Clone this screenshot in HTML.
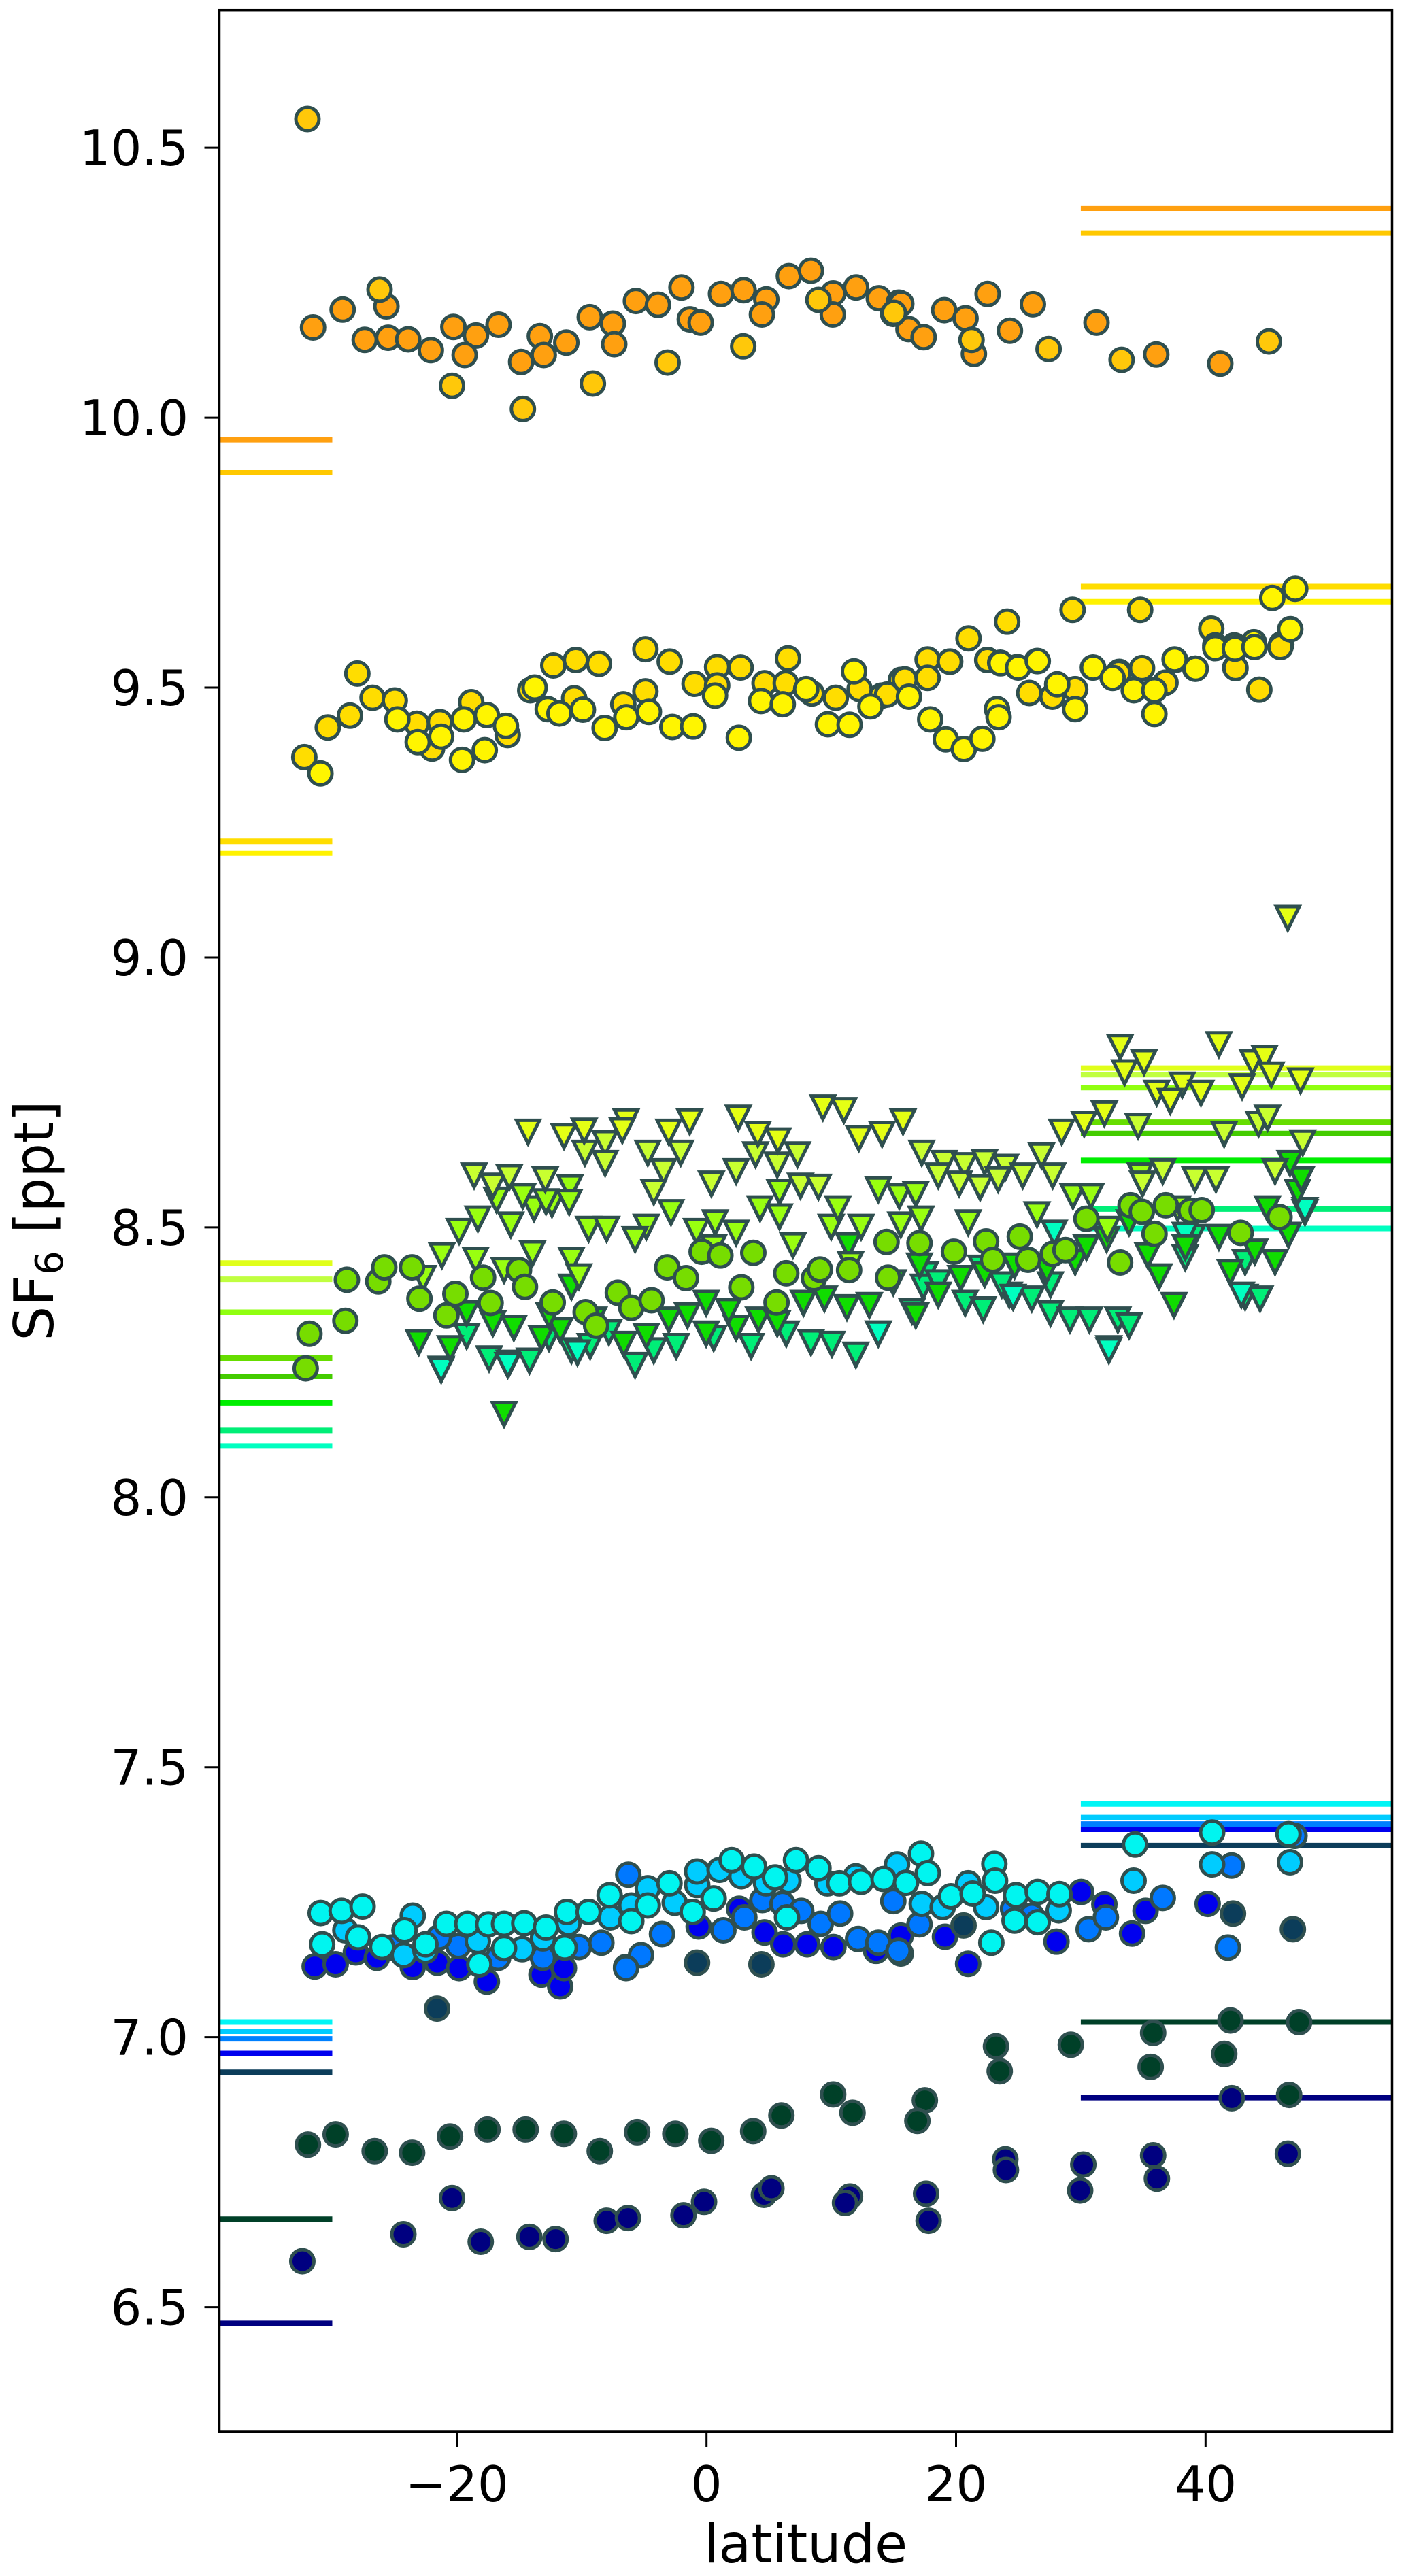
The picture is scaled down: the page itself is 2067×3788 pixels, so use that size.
<!DOCTYPE html>
<html><head><meta charset="utf-8"><title>SF6 vs latitude</title>
<style>html,body{margin:0;padding:0;background:#fff;}svg{display:block;font-family:"DejaVu Sans","Liberation Sans",sans-serif;}</style>
</head><body>
<svg id="chart" xmlns="http://www.w3.org/2000/svg" width="2067" height="3788" viewBox="0 0 2067 3788">
<rect x="0" y="0" width="2067" height="3788" fill="#fff"/>
<g id="lines"></g>
<g id="marks"></g>
<g id="axes"></g>
</svg>
<script>
// ---- axis limits ----
const xLim = [-39.05, 54.95];
const yLim = [6.269, 10.755];
const xTicks = [-20, 0, 20, 40];
const xTickLabels = ["\u221220", "0", "20", "40"];
const yTicks = [6.5, 7.0, 7.5, 8.0, 8.5, 9.0, 9.5, 10.0, 10.5];
const yTickLabels = ["6.5", "7.0", "7.5", "8.0", "8.5", "9.0", "9.5", "10.0", "10.5"];

// ---- reference lines ----
const lineColors = ["#ffa010","#ffc800","#ffdd00","#fff200","#e0ff1a","#c0ff40","#90ff10","#66dd00","#44cc00","#00ee00","#00ee77","#00ffc0","#00f5f5","#00ccff","#0080ff","#0000ee","#0c3d5a","#004028","#000080"];
const lineLeftVals = [9.959,9.898,9.215,9.193,8.434,8.404,8.343,8.258,8.224,8.175,8.124,8.095,7.028,7.011,6.997,6.970,6.935,6.663,6.470];
const lineRightVals = [10.387,10.342,9.687,9.659,8.795,8.783,8.759,8.695,8.674,8.624,8.534,8.498,7.432,7.407,7.395,7.385,7.355,7.028,6.888];
const leftSpan = [-39.05, -30];
const rightSpan = [30, 54.95];

// ---- circle series ----
const orangeLat = [-31.54,-29.17,-25.66,-27.40,-25.52,-23.91,-22.10,-20.29,-18.48,-19.39,-16.67,-14.86,-13.36,-13.05,-11.24,-9.36,-7.51,-7.40,-5.66,-3.89,-2.01,-1.34,-0.47,1.16,2.97,4.79,4.44,6.60,8.37,10.15,10.12,11.99,13.81,15.41,15.61,16.19,17.40,19.05,20.76,21.43,22.53,24.32,26.16,31.26,36.05,41.18];
const orangeVal = [10.167,10.200,10.206,10.144,10.148,10.145,10.125,10.168,10.152,10.116,10.172,10.103,10.151,10.116,10.139,10.186,10.174,10.136,10.216,10.209,10.241,10.182,10.176,10.229,10.236,10.219,10.191,10.262,10.272,10.230,10.191,10.241,10.221,10.213,10.211,10.164,10.149,10.199,10.184,10.118,10.229,10.161,10.210,10.176,10.117,10.100];
const goldLat = [-31.99,-26.21,-20.40,-14.72,-9.11,-3.12,2.94,8.97,14.96,15.02,21.24,27.42,33.27,45.08];
const goldVal = [10.553,10.237,10.059,10.016,10.063,10.102,10.132,10.218,10.192,10.194,10.144,10.127,10.107,10.141];
const ygoldLat = [-32.24,-30.36,-28.58,-27.99,-26.77,-24.99,-23.22,-22.00,-21.37,-18.86,-15.94,-14.13,-12.28,-10.47,-8.62,-10.61,-6.67,-4.90,-4.90,-2.95,-0.96,0.85,0.85,2.73,4.65,6.53,6.35,8.44,10.36,12.27,14.05,15.58,29.34,34.76,24.10,21.00,17.74,19.53,22.50,40.46,46.07,42.38,33.08,17.72,19.49,15.89,17.72,22.52,23.54,25.87,27.72,29.55,33.02,34.91,36.79,42.40,44.31,46.00,14.48];
const ygoldVal = [9.371,9.426,9.448,9.526,9.481,9.476,9.433,9.387,9.436,9.473,9.412,9.495,9.541,9.551,9.544,9.480,9.469,9.571,9.493,9.548,9.507,9.538,9.504,9.537,9.508,9.554,9.508,9.489,9.481,9.497,9.485,9.514,9.644,9.644,9.622,9.591,9.551,9.548,9.551,9.609,9.580,9.537,9.529,9.552,9.548,9.515,9.518,9.551,9.546,9.490,9.483,9.497,9.527,9.536,9.509,9.536,9.496,9.575,9.487];
const yellowLat = [-30.95,-24.78,-23.15,-21.27,-19.60,-19.46,-17.78,-17.61,-16.08,-12.73,-11.79,-9.91,-8.17,-6.43,-4.62,-2.74,-1.07,2.59,4.37,6.11,9.73,11.47,13.14,11.82,-13.78,0.68,7.99,45.35,47.19,46.79,40.78,42.30,43.87,37.57,39.17,30.97,24.90,26.48,23.57,16.23,17.93,19.18,20.62,22.11,23.28,23.41,24.98,26.55,28.11,29.55,30.99,32.55,34.25,35.90,35.90,37.52,39.21,40.78,42.35,43.92];
const yellowVal = [9.341,9.441,9.399,9.409,9.366,9.441,9.384,9.449,9.429,9.460,9.452,9.459,9.425,9.445,9.455,9.427,9.428,9.407,9.475,9.469,9.432,9.431,9.465,9.530,9.500,9.485,9.497,9.666,9.683,9.608,9.578,9.578,9.584,9.551,9.535,9.537,9.538,9.549,9.545,9.483,9.441,9.404,9.386,9.405,9.460,9.445,9.537,9.549,9.506,9.460,9.537,9.518,9.495,9.451,9.495,9.552,9.535,9.573,9.572,9.575];
const lgreenLat = [-31.83,-32.13,-28.95,-28.83,-26.31,-25.83,-23.61,-23.01,-20.13,-20.85,-17.91,-17.31,-15.03,-14.55,-12.33,-9.69,-8.85,-7.11,-6.03,-4.41,-3.15,-1.65,-0.39,1.11,2.79,3.75,5.61,6.39,8.61,9.09,11.43,14.43,14.55,17.07,19.83,22.41,22.95,25.11,25.77,27.75,28.77,30.45,33.15,33.99,35.91,36.81,38.79,39.69,42.81,45.93,34.89];
const lgreenVal = [8.303,8.239,8.327,8.403,8.400,8.426,8.426,8.368,8.377,8.337,8.407,8.360,8.421,8.390,8.361,8.343,8.318,8.379,8.351,8.365,8.426,8.406,8.455,8.448,8.389,8.453,8.361,8.415,8.406,8.422,8.421,8.473,8.407,8.471,8.455,8.474,8.440,8.483,8.440,8.451,8.458,8.516,8.435,8.541,8.488,8.541,8.531,8.532,8.490,8.519,8.529];
const blueLat = [-31.41,-29.73,-28.11,-26.43,-23.55,-21.57,-19.83,-17.61,-13.23,-11.73,-11.43,-6.45,-0.63,4.65,6.15,8.07,10.17,13.59,15.57,19.11,20.97,28.05,30.03,31.89,34.11,35.19,40.17,15.57,2.61];
const blueVal = [7.131,7.135,7.157,7.147,7.130,7.138,7.128,7.103,7.116,7.094,7.128,7.130,7.205,7.194,7.172,7.172,7.167,7.160,7.188,7.186,7.136,7.177,7.269,7.246,7.192,7.234,7.247,7.155,7.238];
const azureLat = [-19.89,-21.45,-16.71,-10.23,-8.43,-6.27,-5.25,-3.57,1.35,3.03,4.47,6.09,7.59,9.15,10.71,12.15,13.77,15.39,17.07,14.97,24.57,26.07,30.63,32.01,36.57,41.79,42.09,47.13,-6.45,-13.11,-25.23];
const azureVal = [7.169,7.185,7.147,7.167,7.175,7.301,7.152,7.191,7.198,7.222,7.254,7.247,7.234,7.210,7.229,7.182,7.175,7.160,7.209,7.252,7.238,7.225,7.200,7.222,7.258,7.166,7.318,7.373,7.128,7.147,7.166];
const skyLat = [-23.55,-28.95,-24.27,-14.79,-13.11,-6.03,-4.71,-2.55,-0.75,-0.75,1.05,2.79,4.77,6.57,9.69,11.97,15.27,17.25,18.93,20.97,22.41,28.23,34.23,40.53,46.77,-7.71,-18.33,-22.53,-11.07];
const skyVal = [7.225,7.198,7.152,7.163,7.183,7.244,7.276,7.249,7.282,7.307,7.310,7.298,7.285,7.290,7.285,7.298,7.320,7.247,7.241,7.285,7.241,7.235,7.290,7.320,7.324,7.222,7.178,7.160,7.211];
const cyanLat = [-30.93,-29.25,-27.57,-30.81,-27.93,-26.01,-24.21,-22.53,-20.85,-19.17,-17.49,-16.23,-14.61,-12.87,-11.19,-9.45,-7.77,-6.03,-4.71,-2.97,-1.11,0.57,2.01,3.81,5.49,7.17,8.97,10.65,12.39,14.19,15.99,17.19,17.73,19.59,21.33,23.07,23.13,24.81,26.55,28.29,24.69,26.55,34.35,40.53,46.65,6.45,-18.21,-16.23,-11.37,22.83];
const cyanVal = [7.230,7.234,7.242,7.172,7.185,7.167,7.198,7.172,7.210,7.210,7.209,7.210,7.211,7.203,7.232,7.232,7.263,7.215,7.244,7.285,7.232,7.257,7.328,7.316,7.296,7.328,7.313,7.285,7.288,7.293,7.286,7.340,7.304,7.261,7.266,7.321,7.290,7.263,7.269,7.265,7.216,7.213,7.357,7.379,7.376,7.222,7.135,7.165,7.166,7.175];
const slateLat = [-21.6,-0.76,4.4,20.6,42.2,47.0];
const slateVal = [7.053,7.138,7.135,7.207,7.229,7.200];
const dgreenLat = [-31.95,-29.73,-26.6,-23.6,-20.56,-17.56,-14.5,-11.44,-8.56,-5.56,-2.5,0.38,3.74,6.0,10.15,11.7,17.5,16.9,23.2,23.5,29.2,35.8,35.6,42.0,41.5,47.5,46.7];
const dgreenVal = [6.801,6.820,6.789,6.786,6.816,6.829,6.829,6.821,6.789,6.824,6.821,6.808,6.826,6.855,6.894,6.860,6.883,6.845,6.983,6.937,6.986,7.008,6.945,7.031,6.969,7.028,6.893];
const navyLat = [-32.4,-24.3,-20.4,-18.1,-14.2,-12.1,-8.0,-6.3,-1.85,-0.2,4.6,5.2,11.5,11.1,17.6,17.8,23.95,24.0,30.2,29.95,35.8,36.1,42.1,46.6];
const navyVal = [6.585,6.635,6.702,6.621,6.630,6.626,6.660,6.665,6.670,6.695,6.708,6.720,6.705,6.693,6.710,6.660,6.774,6.754,6.764,6.716,6.781,6.738,6.887,6.784];

// ---- triangle series ----
const triYellowLat = [-14.31,-11.43,-9.81,-6.45,-6.75,-3.03,-1.35,2.55,4.11,5.73,9.33,11.01,12.21,14.07,15.75,28.47,30.27,31.89,33.15,35.07,33.51,41.07,43.77,44.73,45.27,42.93,47.61,46.59,36.09,38.13,39.63,37.17];
const triYellowVal = [8.677,8.669,8.679,8.696,8.680,8.677,8.696,8.703,8.673,8.661,8.722,8.717,8.665,8.673,8.696,8.677,8.692,8.711,8.834,8.806,8.787,8.839,8.806,8.814,8.783,8.761,8.772,9.073,8.749,8.764,8.749,8.734];
const triYgLat = [-9.75,-8.13,-8.13,-4.71,-2.07,3.93,7.29,5.67,17.25,19.05,20.67,22.29,23.97,25.35,26.85,27.75,34.59,41.49,44.25,44.97,47.79,-18.63,-17.13,-15.81,-12.93,-3.45,-4.23,0.39,2.37,7.53,8.97,18.57,20.25,21.93,23.37,34.95,36.57,39.15,40.83,45.57];
const triYgVal = [8.638,8.656,8.619,8.638,8.638,8.635,8.635,8.616,8.638,8.619,8.615,8.621,8.612,8.596,8.633,8.596,8.688,8.673,8.692,8.703,8.657,8.596,8.577,8.593,8.589,8.604,8.566,8.581,8.604,8.577,8.575,8.596,8.581,8.574,8.589,8.581,8.604,8.589,8.589,8.604];
const triLimeLat = [-10.95,5.85,13.77,15.45,16.77,20.97,26.49,29.37,30.81,-19.83,-18.33,-15.69,-13.83,-12.39,-11.01,-9.45,-8.01,-4.83,-2.85,-0.81,0.69,2.37,4.29,5.85,9.99,10.53,12.39,15.57,17.19,32.13,37.77,-16.83,-14.73,-12.87,-21.21,-18.51,-16.23,-13.95,-10.83,-10.23,-22.71,0.57,6.93,-5.73,11.55,34.77];
const triLimeVal = [8.574,8.566,8.570,8.558,8.562,8.509,8.524,8.558,8.558,8.493,8.516,8.505,8.535,8.543,8.547,8.497,8.497,8.501,8.528,8.493,8.509,8.490,8.535,8.520,8.501,8.535,8.501,8.505,8.516,8.497,8.535,8.551,8.558,8.548,8.448,8.440,8.421,8.452,8.440,8.409,8.406,8.463,8.467,8.478,8.432,8.596];
const triGreenLat = [-23.07,-20.55,-17.13,-15.45,-13.23,-11.73,-9.03,-6.63,-4.83,-3.03,-1.53,-0.03,2.37,4.17,7.77,9.45,11.25,13.05,16.77,18.57,20.37,22.29,24.69,27.27,29.55,30.45,33.87,32.07,36.27,38.37,41.07,41.97,43.95,45.57,46.65,47.37,47.67,46.77,44.97,-16.23,37.47,35.37,11.37,14.97,17.07,-0.03,1.77,5.67,-10.83,-19.23,-12.63];
const triGreenVal = [8.287,8.276,8.322,8.314,8.295,8.310,8.329,8.284,8.299,8.329,8.337,8.303,8.314,8.329,8.360,8.368,8.352,8.356,8.337,8.375,8.406,8.413,8.429,8.421,8.436,8.463,8.509,8.478,8.409,8.463,8.482,8.417,8.455,8.436,8.486,8.566,8.589,8.619,8.535,8.154,8.356,8.448,8.467,8.398,8.429,8.360,8.345,8.322,8.390,8.341,8.337];
const triSpringLat = [-21.27,-17.43,-15.81,-14.19,-10.83,-9.33,-5.73,-4.23,-2.43,0.57,3.57,6.39,8.37,10.05,11.97,13.77,16.47,17.55,20.73,22.17,24.27,26.07,27.57,29.13,30.69,32.25,32.97,33.87,38.37,43.17,44.37,47.97,17.37,27.57,21.99,38.97,43.17,-7.83,-12.63,-19.23,18.57,23.67];
const triSpringVal = [8.238,8.257,8.249,8.253,8.272,8.280,8.245,8.272,8.280,8.295,8.280,8.303,8.287,8.284,8.264,8.303,8.345,8.413,8.360,8.348,8.375,8.368,8.341,8.329,8.329,8.276,8.329,8.318,8.444,8.371,8.368,8.528,8.390,8.394,8.425,8.482,8.436,8.306,8.295,8.299,8.398,8.394];
const triAquaLat = [27.87,38.37,42.87,47.97,13.77,-21.27,-15.93,-10.35,32.25,24.57];
const triAquaVal = [8.490,8.486,8.375,8.532,8.303,8.236,8.245,8.268,8.272,8.371];

// ---- geometry ----
const PL = 322.5, PR = 2046.5, PT = 14.7, PB = 3576;
const NS = "http://www.w3.org/2000/svg";
function xs(v){ return PL + (v - xLim[0]) / (xLim[1] - xLim[0]) * (PR - PL); }
function ys(v){ return PB - (v - yLim[0]) / (yLim[1] - yLim[0]) * (PB - PT); }
function mk(tag, attrs){ const e = document.createElementNS(NS, tag); for (const k in attrs) e.setAttribute(k, attrs[k]); return e; }

const gLines = document.getElementById('lines');
const gMarks = document.getElementById('marks');
const gAxes = document.getElementById('axes');

for (let i = 0; i < lineColors.length; i++) {
  const l1 = mk('line', {x1: xs(leftSpan[0]), x2: xs(leftSpan[1]), y1: ys(lineLeftVals[i]), y2: ys(lineLeftVals[i]), stroke: lineColors[i], 'stroke-width': 8});
  
  
  gLines.appendChild(l1);
  const l2 = mk('line', {x1: xs(rightSpan[0]), x2: xs(rightSpan[1]), y1: ys(lineRightVals[i]), y2: ys(lineRightVals[i]), stroke: lineColors[i], 'stroke-width': 8});
  
  
  gLines.appendChild(l2);
}

const EDGE = "#2f4f4f";
function circles(lats, vals, color, name){
  for (let i = 0; i < lats.length; i++) {
    const c = mk('circle', {cx: xs(lats[i]), cy: ys(vals[i]), r: 17, fill: color, stroke: EDGE, 'stroke-width': 5});
    
    
    gMarks.appendChild(c);
  }
}
function tris(lats, vals, color, name){
  for (let i = 0; i < lats.length; i++) {
    const x = xs(lats[i]), y = ys(vals[i]), h = 17;
    const p = mk('polygon', {points: (x-h)+','+(y-h)+' '+(x+h)+','+(y-h)+' '+x+','+(y+h), fill: color, stroke: EDGE, 'stroke-width': 5, 'stroke-linejoin': 'miter'});
    
    
    gMarks.appendChild(p);
  }
}
circles(orangeLat, orangeVal, "#ffa010", "orange-point");
circles(goldLat, goldVal, "#ffc80a", "gold-point");
circles(ygoldLat, ygoldVal, "#ffdd00", "yellow-gold-point");
circles(yellowLat, yellowVal, "#fff500", "yellow-point");
tris(triSpringLat, triSpringVal, "#00ee77", "spring-triangle");
tris(triAquaLat, triAquaVal, "#00ffc0", "aqua-triangle");
tris(triGreenLat, triGreenVal, "#10dd00", "green-triangle");
tris(triLimeLat, triLimeVal, "#99ff10", "lime-triangle");
tris(triYgLat, triYgVal, "#c8ff30", "yellow-green-triangle");
tris(triYellowLat, triYellowVal, "#e4ff14", "yellow-triangle");
circles(lgreenLat, lgreenVal, "#77dd00", "light-green-point");
circles(blueLat, blueVal, "#0000ee", "blue-point");
circles(azureLat, azureVal, "#0078ff", "azure-point");
circles(skyLat, skyVal, "#00ccff", "sky-point");
circles(cyanLat, cyanVal, "#00f5f0", "cyan-point");
circles(slateLat, slateVal, "#0c3d5a", "slate-point");
circles(dgreenLat, dgreenVal, "#004028", "dark-green-point");
circles(navyLat, navyVal, "#000080", "navy-point");

// ---- axes frame ----
const frame = mk('rect', {x: PL, y: PT, width: PR-PL, height: PB-PT, fill: 'none', stroke: '#000', 'stroke-width': 3.5});


gAxes.appendChild(frame);

for (let i = 0; i < xTicks.length; i++) {
  const x = xs(xTicks[i]);
  const t = mk('line', {x1: x, x2: x, y1: PB, y2: PB+22, stroke: '#000', 'stroke-width': 3});
  
  
  gAxes.appendChild(t);
  const tx = mk('text', {x: x, y: PB+102, 'text-anchor': 'middle', 'font-size': 72, fill: '#000'});
  tx.textContent = xTickLabels[i];
  
  
  gAxes.appendChild(tx);
}
for (let i = 0; i < yTicks.length; i++) {
  const y = ys(yTicks[i]);
  const t = mk('line', {x1: PL-22, x2: PL, y1: y, y2: y, stroke: '#000', 'stroke-width': 3});
  
  
  gAxes.appendChild(t);
  const tx = mk('text', {x: 277, y: y+26, 'text-anchor': 'end', 'font-size': 72, fill: '#000'});
  tx.textContent = yTickLabels[i];
  
  
  gAxes.appendChild(tx);
}
const xl = mk('text', {x: (PL+PR)/2, y: 3768, 'text-anchor': 'middle', 'font-size': 78, fill: '#000'});
xl.textContent = 'latitude';


gAxes.appendChild(xl);
const yl = mk('text', {x: 0, y: 0, 'text-anchor': 'middle', 'font-size': 80, fill: '#000', transform: 'translate(78,1795) rotate(-90)'});


const t1 = mk('tspan', {}); t1.textContent = 'SF';
const t2 = mk('tspan', {'font-size': 56, dy: 14}); t2.textContent = '6';
const t3 = mk('tspan', {dy: -14}); t3.textContent = ' [ppt]';
yl.appendChild(t1); yl.appendChild(t2); yl.appendChild(t3);
gAxes.appendChild(yl);
</script>
</body></html>
